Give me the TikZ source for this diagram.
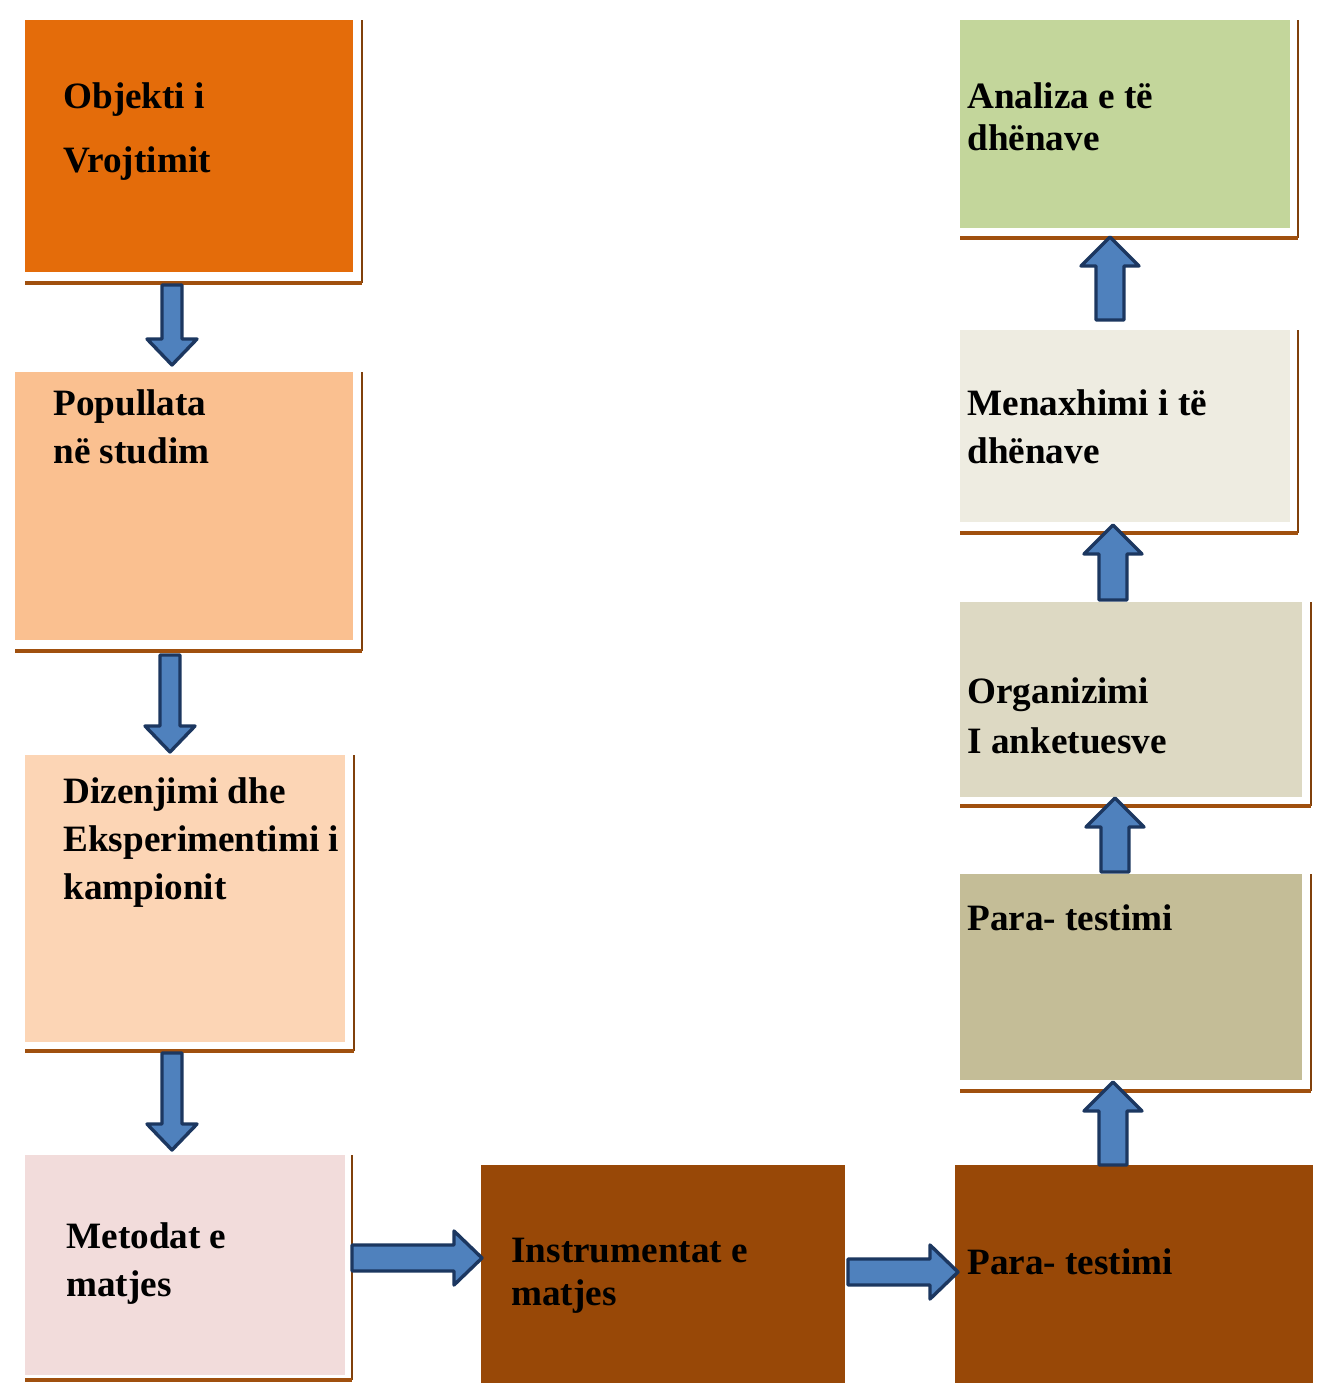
\documentclass[tikz,border=0pt]{standalone}
\usepackage{fontspec}
\setmainfont{Liberation Serif}
\usetikzlibrary{calc}
\definecolor{cObj}{HTML}{E46C0A}
\definecolor{cPop}{HTML}{FAC090}
\definecolor{cDiz}{HTML}{FCD5B5}
\definecolor{cMet}{HTML}{F2DCDB}
\definecolor{cBrown}{HTML}{984807}
\definecolor{cPara}{HTML}{C4BD97}
\definecolor{cOrg}{HTML}{DDD9C3}
\definecolor{cMen}{HTML}{EEECE1}
\definecolor{cAna}{HTML}{C3D69B}
\definecolor{cArrow}{HTML}{4F81BD}
\definecolor{cArrowLine}{HTML}{1C3760}
\definecolor{cRim}{HTML}{A0500E}
\tikzstyle{card} = [rectangle, draw=none, inner sep=0pt, outer sep=0pt,
                    anchor=north west]
\tikzstyle{boxtext} = [anchor=base west, inner sep=0pt, align=left,
                       font=\fontsize{18.6}{24}\selectfont\bfseries]
\tikzstyle{barrow} = [fill=cArrow, draw=cArrowLine, line width=1.7pt, line join=round]
\tikzstyle{rimside} = [draw=cRim!80!black, line width=1pt]
\tikzstyle{rimbase} = [draw=cRim, line width=1.6pt]
% block arrow: tail, tip, shaft half width, head half width, head length
\newcommand{\blockarrow}[5]{%
  \path (#1) coordinate (ba-s) (#2) coordinate (ba-e);
  \path ($(ba-e)!#5!(ba-s)$) coordinate (ba-h);
  \draw[barrow] ($(ba-s)!#3!90:(ba-e)$) -- ($(ba-h)!#3!90:(ba-e)$)
    -- ($(ba-h)!#4!90:(ba-e)$) -- (ba-e) -- ($(ba-h)!#4!-90:(ba-e)$)
    -- ($(ba-h)!#3!-90:(ba-e)$) -- ($(ba-s)!#3!-90:(ba-e)$) -- cycle;}
% brown lines right of and below a box
\newcommand{\rim}[3]{%
  \draw[rimside] ($(#1.north east)+(#2,0)$) -- ($(#1.south east)+(#2,#3)$);
  \draw[rimbase] ($(#1.south west)+(0,#3)$) -- ($(#1.south east)+(#2,#3)$);}
\begin{document}
\begin{tikzpicture}[x=0.5pt, y=-0.5pt]
\useasboundingbox (0,0) rectangle (1321,1383);
% left column
\node[card, fill=cObj, minimum width=164pt, minimum height=126pt] (obj) at (25,20) {};
\node[card, fill=cPop, minimum width=169pt, minimum height=134pt] (pop) at (15,372) {};
\node[card, fill=cDiz, minimum width=160pt, minimum height=143.5pt] (diz) at (25,755) {};
\node[card, fill=cMet, minimum width=160pt, minimum height=110pt] (met) at (25,1155) {};
\rim{obj}{9}{11}
\rim{pop}{9}{11}
\rim{diz}{9}{9}
\rim{met}{7}{5}
% bottom row
\node[card, fill=cBrown, minimum width=182pt, minimum height=109pt] (ins) at (481,1165) {};
\node[card, fill=cBrown, minimum width=179pt, minimum height=109pt] (parab) at (955,1165) {};
% right column
\node[card, fill=cPara, minimum width=171pt, minimum height=103pt] (parat) at (960,874) {};
\node[card, fill=cOrg, minimum width=171pt, minimum height=97.5pt] (org) at (960,602) {};
\node[card, fill=cMen, minimum width=165pt, minimum height=96pt] (men) at (960,330) {};
\node[card, fill=cAna, minimum width=165pt, minimum height=104pt] (ana) at (960,20) {};
\rim{parat}{9}{11}
\rim{org}{9}{9}
\rim{men}{8}{11}
\rim{ana}{8}{10}

% texts (placed at the baseline of their last line)
\node[boxtext, font=\fontsize{18.6}{32}\selectfont\bfseries] (tobj) at (63,172) {Objekti i\\Vrojtimit};
\node[boxtext] (tpop) at (53,463) {Popullata\\në studim};
\node[boxtext] (tdiz) at (63,899) {Dizenjimi dhe\\Eksperimentimi i\\kampionit};
\node[boxtext] (tmet) at (66,1296) {Metodat e\\matjes};
\node[boxtext, font=\fontsize{18.6}{21.5}\selectfont\bfseries] (tins) at (511,1305) {Instrumentat e\\matjes};
\node[boxtext] (tparab) at (967,1274) {Para- testimi};
\node[boxtext] (tparat) at (967,930) {Para- testimi};
\node[boxtext, font=\fontsize{18.6}{25}\selectfont\bfseries] (torg) at (967,753) {Organizimi\\I anketuesve};
\node[boxtext] (tmen) at (967,463) {Menaxhimi i të\\dhënave};
\node[boxtext, font=\fontsize{18.6}{21}\selectfont\bfseries] (tana) at (967,150) {Analiza e të\\dhënave};

% arrows
\blockarrow{$(obj.south)+(-17,13)$}{$(pop.north)+(-12,-7)$}{5pt}{12.5pt}{13pt}
\blockarrow{$(pop.south)+(-14,15)$}{$(diz.north)+(-15,-3)$}{5pt}{12.5pt}{13pt}
\blockarrow{$(diz.south)+(-13,11)$}{$(met.north)+(-13,-5)$}{5pt}{12.5pt}{13pt}
\blockarrow{$(met.east)+(7,-7)$}{$(ins.west)+(1,-16)$}{6.5pt}{13.5pt}{14pt}
\blockarrow{$(ins.east)+(3,-2)$}{$(parab.west)+(3,-2)$}{6.5pt}{13.5pt}{14pt}
\blockarrow{$(parab.north)+(-21,0)$}{$(parat.south)+(-18,2)$}{7pt}{14.5pt}{14.5pt}
\blockarrow{$(parat.north)+(-16,-2)$}{$(org.south)+(-16,1)$}{7pt}{14.5pt}{14.5pt}
\blockarrow{$(org.north)+(-18,-2)$}{$(men.south)+(-12,3)$}{7pt}{14.5pt}{14.5pt}
\blockarrow{$(men.north)+(-15,-10)$}{$(ana.south)+(-15,9)$}{7pt}{14.5pt}{14.5pt}
\end{tikzpicture}
\end{document}
